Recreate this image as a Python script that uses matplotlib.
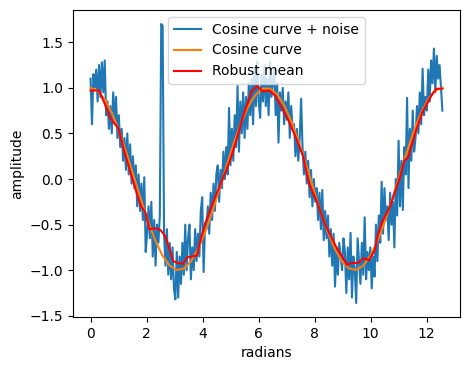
import numpy as np
import matplotlib
matplotlib.use("Agg")
import matplotlib.pyplot as plt

# Noisy samples (250 points evenly spread over 0..4*pi)
noisy_y = [
    1.10, 0.60, 1.15, 1.00, 1.20, 0.85, 1.25, 0.90, 1.28, 0.95,
    1.30, 0.70, 0.85, 0.55, 0.80, 0.50, 0.95, 0.62, 0.90, 0.45,
    0.70, 0.35, 0.55, 0.20, 0.45, 0.10, 0.50, 0.05, 0.38, -0.05,
    0.25, -0.10, 0.15, -0.30, 0.05, -0.35, -0.05, -0.45, 0.02, -0.80,
    -0.60, -0.30, -0.65, -0.25, -0.85, -0.45, -0.95, -0.50, -0.70, -0.40,
    1.70, 1.68, -0.60, -0.95, -0.55, -1.05, -0.70, -1.10, -0.75, -1.20,
    -1.32, -0.80, -1.30, -0.85, -1.15, -0.70, -1.05, -0.50, -1.00, -0.65,
    -0.50, -1.10, -0.75, -1.00, -0.55, -0.90, -0.60, -0.85, -0.35, -0.20,
    -1.02, -0.50, -0.55, -0.30, -0.60, -0.15, -0.45, -0.05, -0.35, 0.05,
    0.15, -0.25, 0.10, -0.10, 0.30, 0.00, 0.35, 0.05, 0.78, 0.15,
    0.55, 0.20, 0.70, 0.35, 1.02, 0.30, 0.85, 0.50, 0.95, 0.45,
    0.90, 0.55, 1.05, 0.70, 1.10, 0.60, 1.20, 0.80, 1.29, 0.85,
    0.67, 1.15, 0.85, 1.25, 0.80, 1.10, 0.70, 1.29, 0.90, 1.05,
    1.20, 0.70, 1.05, 0.40, 0.95, 0.75, 1.00, 0.60, 0.85, 0.65,
    0.95, 0.45, 0.80, 0.55, 0.60, 0.25, 0.55, 0.20, 0.45, 0.88,
    0.35, 0.05, 0.30, -0.05, 0.20, -0.20, 0.10, -0.30, 0.00, -0.25,
    -0.10, -0.45, -0.15, -0.55, -0.12, -0.67, -0.35, -0.65, -0.40, -0.85,
    -0.55, -0.95, -0.60, -1.18, -0.75, -1.05, -0.70, -0.85, -1.00, -0.65,
    -0.80, -1.25, -0.75, -1.10, -0.59, -1.30, -0.85, -1.00, -1.36, -0.65,
    -0.90, -1.15, -0.70, -1.05, -0.42, -1.10, -0.80, -1.00, -0.75, -1.20,
    -0.85, -1.07, -0.50, -0.90, -0.40, -0.70, -0.03, -0.60, -0.10, -0.45,
    -0.30, -0.67, -0.15, -0.50, -0.25, -0.75, 0.00, -0.40, 0.42, -0.30,
    0.20, -0.34, 0.35, 0.05, 0.89, -0.10, 0.55, 0.20, 0.75, 0.30,
    0.45, 0.80, 0.50, 0.95, 0.60, 1.21, 0.70, 0.90, 0.75, 1.20,
    0.85, 1.30, 1.05, 1.43, 0.95, 1.35, 1.10, 1.25, 1.00, 0.75,
]

# Clean cosine curve (50 points over 0..4*pi)
cos_y = [
    1.000, 0.967, 0.871, 0.718, 0.519, 0.285, 0.032, -0.222, -0.463, -0.672,
    -0.838, -0.949, -0.998, -0.982, -0.902, -0.762, -0.573, -0.348, -0.096, 0.159,
    0.405, 0.624, 0.802, 0.927, 0.992, 0.992, 0.927, 0.802, 0.624, 0.405,
    0.159, -0.096, -0.348, -0.573, -0.762, -0.902, -0.982, -0.998, -0.949, -0.838,
    -0.672, -0.463, -0.222, 0.032, 0.285, 0.519, 0.718, 0.871, 0.967, 1.000,
]

# Robust mean curve
robust_x = [0.0, 0.3, 0.5, 0.7, 1.0, 1.2, 1.5, 1.8, 1.95, 2.1, 2.3, 2.5, 2.65,
            2.8, 2.95, 3.1, 3.3, 3.45, 3.6, 3.8, 3.9, 4.1, 4.25, 4.5, 4.85, 5.0,
            5.2, 5.45, 5.75, 5.95, 6.15, 6.4, 6.6, 6.85, 7.1, 7.35, 7.6, 7.8,
            8.1, 8.35, 8.6, 8.85, 8.95, 9.15, 9.35, 9.55, 9.75, 9.95, 10.15,
            10.25, 10.4, 10.7, 10.85, 11.05, 11.2, 11.35, 11.6, 11.85, 12.2,
            12.35, 12.566]
robust_y = [0.97, 0.97, 0.83, 0.67, 0.55, 0.31, -0.01, -0.30, -0.36, -0.55,
            -0.54, -0.56, -0.62, -0.75, -0.90, -0.92, -0.93, -0.86, -0.85,
            -0.84, -0.70, -0.48, -0.36, -0.16, 0.10, 0.22, 0.42, 0.69, 0.96,
            1.02, 0.96, 0.97, 0.91, 0.77, 0.62, 0.44, 0.24, -0.05, -0.26,
            -0.48, -0.64, -0.79, -0.83, -0.94, -0.92, -0.92, -0.87, -0.89,
            -0.78, -0.63, -0.48, -0.30, -0.16, 0.02, 0.20, 0.24, 0.51, 0.73,
            0.93, 0.99, 0.99]

x_noisy = np.linspace(0, 4 * np.pi, len(noisy_y))
x_cos = np.linspace(0, 4 * np.pi, len(cos_y))

fig = plt.figure(figsize=(4.7, 3.71), dpi=100)
ax = fig.add_axes([0.1553, 0.1456, 0.8234, 0.8274])
ax.plot(x_noisy, noisy_y, color="C0", label="Cosine curve + noise")
ax.plot(x_cos, cos_y, color="C1", label="Cosine curve")
ax.plot(robust_x, robust_y, color="r", label="Robust mean")
ax.set_xlabel("radians")
ax.set_ylabel("amplitude")
ax.legend(loc="upper center")
fig.savefig("out.png", dpi=100)
